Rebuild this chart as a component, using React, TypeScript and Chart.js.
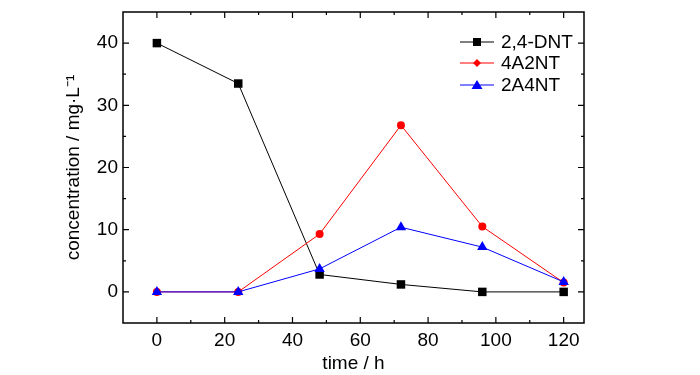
import React, { useEffect, useRef } from "react";
import { Chart, registerables } from "chart.js";

Chart.register(...registerables);

const timeH = [0, 24, 48, 72, 96, 120];
const dnt = [40, 33.5, 2.8, 1.2, 0, 0];
const a2nt = [0, 0, 9.3, 26.8, 10.5, 1.5];
const a4nt = [0, 0, 3.7, 10.4, 7.2, 1.6];
const seriesNames = ["2,4-DNT", "4A2NT", "2A4NT"];
const seriesColors = ["#000000", "#ff0000", "#0000ff"];
const seriesMarkers = ["rect", "circle", "triangle"];
const xTicks = [0, 20, 40, 60, 80, 100, 120];
const yTicks = [0, 10, 20, 30, 40];

const FONT = "'Liberation Sans', Arial, sans-serif";
const FS = 19;

const framePlugin = {
  id: "frame",
  afterDraw(chart: any) {
    const { ctx, chartArea: a, scales } = chart;
    const x = scales.x;
    const y = scales.y;
    ctx.save();
    ctx.strokeStyle = "#000";
    ctx.lineWidth = 1.5;
    ctx.strokeRect(a.left, a.top, a.right - a.left, a.bottom - a.top);
    ctx.lineWidth = 1.2;
    ctx.beginPath();
    for (let v = -10; v <= 130; v += 10) {
      const px = x.getPixelForValue(v);
      if (px < a.left + 1 || px > a.right - 1) continue;
      const len = v % 20 === 0 ? 6 : 3;
      ctx.moveTo(px, a.bottom);
      ctx.lineTo(px, a.bottom - len);
      ctx.moveTo(px, a.top);
      ctx.lineTo(px, a.top + len);
    }
    for (let v = -5; v <= 45; v += 5) {
      const py = y.getPixelForValue(v);
      if (py < a.top + 1 || py > a.bottom - 1) continue;
      const len = v % 10 === 0 ? 6 : 3;
      ctx.moveTo(a.left, py);
      ctx.lineTo(a.left + len, py);
      ctx.moveTo(a.right, py);
      ctx.lineTo(a.right - len, py);
    }
    ctx.stroke();

    // legend
    const lx0 = 460;
    const lx1 = 494;
    const rows = [42, 63, 85];
    ctx.font = `${FS}px ${FONT}`;
    ctx.textBaseline = "middle";
    ctx.textAlign = "left";
    seriesNames.forEach((name, i) => {
      const yy = rows[i];
      ctx.strokeStyle = seriesColors[i];
      ctx.fillStyle = seriesColors[i];
      ctx.lineWidth = 1;
      ctx.beginPath();
      ctx.moveTo(lx0, yy);
      ctx.lineTo(lx1, yy);
      ctx.stroke();
      const cx = (lx0 + lx1) / 2;
      ctx.beginPath();
      if (i === 0) {
        ctx.rect(cx - 4, yy - 4, 8, 8);
      } else if (i === 1) {
        ctx.moveTo(cx, yy - 4);
        ctx.lineTo(cx + 4, yy);
        ctx.lineTo(cx, yy + 4);
        ctx.lineTo(cx - 4, yy);
        ctx.closePath();
      } else {
        ctx.moveTo(cx, yy - 5);
        ctx.lineTo(cx + 5.5, yy + 4);
        ctx.lineTo(cx - 5.5, yy + 4);
        ctx.closePath();
      }
      ctx.fill();
      ctx.fillStyle = "#000";
      ctx.fillText(name, 501, yy + 1);
    });
    ctx.restore();
  },
};

export default function App() {
  const ref = useRef<HTMLCanvasElement>(null);
  useEffect(() => {
    if (!ref.current) return;
    const datasets = [dnt, a2nt, a4nt].map((vals, i) => ({
      label: seriesNames[i],
      data: vals.map((v, k) => ({ x: timeH[k], y: v })),
      borderColor: seriesColors[i],
      backgroundColor: seriesColors[i],
      borderWidth: 1,
      pointStyle: seriesMarkers[i] as any,
      pointRadius: i === 1 ? 4 : 6,
      pointBorderWidth: 0,
      order: 3 - i,
    }));
    const chart = new Chart(ref.current, {
      type: "line",
      data: { datasets },
      plugins: [framePlugin],
      options: {
        responsive: false,
        animation: false,
        layout: { padding: { left: 54, right: 116, top: 12, bottom: 0 } },
        plugins: { legend: { display: false }, tooltip: { enabled: false } },
        scales: {
          x: {
            type: "linear",
            min: -10,
            max: 126,
            afterBuildTicks: (s: any) => {
              s.ticks = xTicks.map((v) => ({ value: v }));
            },
            afterFit: (s: any) => {
              s.height = 375 - 323;
              s.paddingLeft = 0;
              s.paddingRight = 0;
            },
            grid: { display: false, drawTicks: false },
            border: { display: false },
            ticks: { color: "#000", font: { family: FONT, size: FS }, padding: 6, maxRotation: 0 },
            title: {
              display: true,
              text: "time / h",
              color: "#000",
              font: { family: FONT, size: FS },
              padding: { top: 0, bottom: 0 },
            },
          },
          y: {
            type: "linear",
            min: -5,
            max: 45,
            afterBuildTicks: (s: any) => {
              s.ticks = yTicks.map((v) => ({ value: v }));
            },
            afterFit: (s: any) => {
              s.width = 123 - 54;
              s.paddingTop = 0;
              s.paddingBottom = 0;
            },
            grid: { display: false, drawTicks: false },
            border: { display: false },
            ticks: { color: "#000", font: { family: FONT, size: FS }, padding: 5 },
            title: {
              display: true,
              text: "concentration / mg·L⁻¹",
              color: "#000",
              font: { family: FONT, size: FS },
              padding: { top: 8, bottom: 0 },
            },
          },
        },
      },
    });
    return () => chart.destroy();
  }, []);
  return (
    <div style={{ position: "fixed", left: 0, top: 0, width: 700, height: 375, background: "#fff" }}>
      <canvas ref={ref} width={700} height={375} />
    </div>
  );
}
